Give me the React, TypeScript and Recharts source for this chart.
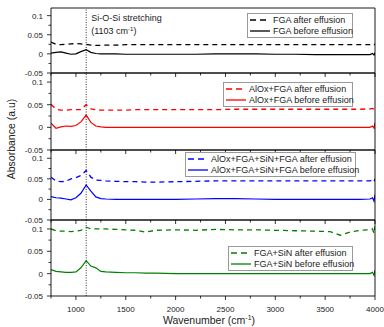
import { Legend, Line, LineChart, ReferenceLine, XAxis, YAxis } from "recharts";

const W = 384;
const H = 327;
const FONT = "'Liberation Sans', Arial, sans-serif";

// x values (cm-1)
const wavenumber = [
  750, 800, 850, 900, 950, 1000, 1050, 1103, 1150, 1200, 1250, 1300, 1400, 1500, 1600, 1700,
  1800, 2000, 2200, 2400, 2600, 2800, 3000, 3200, 3400, 3550, 3650, 3750, 3850, 3950, 3975,
  3990, 4000,
];

const fgaAfter = [
  0.031, 0.025, 0.024, 0.025, 0.026, 0.027, 0.026, 0.025, 0.023, 0.022, 0.022, 0.023, 0.023,
  0.024, 0.024, 0.024, 0.024, 0.024, 0.024, 0.024, 0.024, 0.024, 0.024, 0.024, 0.024, 0.024,
  0.024, 0.024, 0.024, 0.024, 0.025, 0.023, 0.026,
];
const fgaBefore = [
  0.002, 0.004, 0.005, 0.002, -0.001, 0.0, 0.006, 0.011, 0.004, 0.001, 0.0, 0.0, 0.0, -0.001,
  -0.001, -0.001, -0.001, -0.001, -0.001, 0.0, 0.0, 0.0, -0.001, -0.001, -0.002, -0.002, -0.002,
  -0.002, -0.002, -0.002, 0.001, -0.003, 0.003,
];
const alOxAfter = [
  0.051, 0.04, 0.038, 0.038, 0.039, 0.039, 0.039, 0.05, 0.041, 0.039, 0.038, 0.038, 0.038, 0.038,
  0.039, 0.039, 0.039, 0.039, 0.039, 0.039, 0.04, 0.04, 0.04, 0.04, 0.04, 0.04, 0.04, 0.04, 0.04,
  0.041, 0.042, 0.04, 0.048,
];
const alOxBefore = [
  0.009, -0.002, 0.001, 0.003, 0.002, 0.004, 0.012, 0.027, 0.011, 0.003, 0.001, 0.0, 0.0, 0.0,
  0.0, 0.0, 0.0, 0.0, 0.0, 0.0, 0.0, 0.0, 0.0, 0.0, 0.0, 0.0, 0.0, 0.0, 0.0, 0.0, 0.003, -0.002,
  0.01,
];
const stackAfter = [
  0.054, 0.045, 0.043, 0.044, 0.05, 0.053, 0.058, 0.07, 0.054, 0.047, 0.046, 0.045, 0.044, 0.043,
  0.043, 0.042, 0.042, 0.043, 0.044, 0.045, 0.045, 0.045, 0.045, 0.045, 0.045, 0.045, 0.045,
  0.045, 0.045, 0.045, 0.047, 0.043, 0.05,
];
const stackBefore = [
  0.007, 0.004, 0.003, 0.001, -0.001, 0.004, 0.015, 0.035, 0.02, 0.006, 0.002, 0.001, 0.0, 0.0,
  0.0, 0.0, 0.0, 0.0, 0.001, 0.002, 0.002, 0.001, 0.0, 0.0, 0.0, 0.0, 0.0, 0.0, 0.0, 0.001, 0.004,
  -0.004, 0.012,
];
const sinAfter = [
  0.1, 0.096, 0.095, 0.095, 0.094, 0.095, 0.097, 0.104, 0.1, 0.1, 0.1, 0.1, 0.099, 0.098, 0.097,
  0.093, 0.097, 0.098, 0.097, 0.099, 0.098, 0.098, 0.097, 0.096, 0.095, 0.094, 0.086, 0.093,
  0.097, 0.098, 0.1, 0.09, 0.106,
];
const sinBefore = [
  0.009, 0.005, 0.004, 0.003, 0.003, 0.004, 0.013, 0.029, 0.017, 0.013, 0.005, 0.004, 0.003,
  0.002, 0.002, 0.001, 0.001, 0.0, 0.0, 0.0, 0.0, 0.0, 0.0, 0.0, 0.0, 0.0, 0.0, 0.0, 0.0, 0.0,
  0.003, -0.004, 0.008,
];

const xMajorTicks = [1000, 1500, 2000, 2500, 3000, 3500, 4000];
const xMinorTicks = [750, 1250, 1750, 2250, 2750, 3250, 3750];
const yMajorTicks = [-0.05, 0, 0.05, 0.1];
const yMinorTicks = [-0.025, 0.025, 0.075];
const peakWavenumber = 1103;

type Panel = {
  name: string;
  color: string;
  after: number[];
  before: number[];
  top: number;
  bottom: number;
  legend: { left: number; top: number; width: number };
};

const panels: Panel[] = [
  { name: "FGA", color: "#000000", after: fgaAfter, before: fgaBefore, top: 8, bottom: 73, legend: { left: 247, top: 13, width: 106 } },
  { name: "AlOx+FGA", color: "#ff0000", after: alOxAfter, before: alOxBefore, top: 73, bottom: 150, legend: { left: 223, top: 82, width: 130 } },
  { name: "AlOx+FGA+SiN+FGA", color: "#0000ff", after: stackAfter, before: stackBefore, top: 150, bottom: 220, legend: { left: 185, top: 152, width: 171 } },
  { name: "FGA+SiN", color: "#008000", after: sinAfter, before: sinBefore, top: 220, bottom: 296, legend: { left: 228, top: 246, width: 125 } },
];

function YTick(props: any) {
  const { x, y, payload } = props;
  const major = yMajorTicks.includes(payload.value);
  return (
    <g>
      <line x1={x - (major ? 4 : 2.5)} x2={x} y1={y} y2={y} stroke="#000" strokeWidth={0.8} />
      {major && (
        <text x={x - 8} y={y + 3} textAnchor="end" fontSize={8} fill="#222" fontFamily={FONT}>
          {String(payload.value)}
        </text>
      )}
    </g>
  );
}

function XTick(props: any) {
  const { x, y, payload, showLabel } = props;
  const major = xMajorTicks.includes(payload.value);
  return (
    <g>
      <line x1={x} x2={x} y1={y} y2={y + (major ? 4 : 2.5)} stroke="#000" strokeWidth={0.8} />
      {major && showLabel && (
        <text x={x} y={y + 16} textAnchor="middle" fontSize={8} fill="#222" fontFamily={FONT}>
          {String(payload.value)}
        </text>
      )}
    </g>
  );
}

function LegendBox({ panel }: { panel: Panel }) {
  const rows = [
    { label: `${panel.name} after effusion`, dash: "6 4" },
    { label: `${panel.name} before effusion`, dash: undefined },
  ];
  return (
    <div
      style={{
        background: "#fff",
        border: "1px solid #999",
        padding: 1,
        fontFamily: FONT,
        fontSize: 9,
        lineHeight: "10px",
        color: "#222",
      }}
    >
      {rows.map((r) => (
        <div key={r.label} style={{ display: "flex", alignItems: "center", height: 10.5 }}>
          <svg width={22} height={10} style={{ flex: "none" }}>
            <line x1={1} x2={21} y1={5} y2={5} stroke={panel.color} strokeWidth={1.3} strokeDasharray={r.dash} />
          </svg>
          <span style={{ marginLeft: 2, whiteSpace: "nowrap" }}>{r.label}</span>
        </div>
      ))}
    </div>
  );
}

function PeakLabel(props: any) {
  const vb = props.viewBox || {};
  const x = (vb.x ?? 0) + 5;
  const y = vb.y ?? 0;
  return (
    <text fontSize={9} fill="#222" fontFamily={FONT}>
      <tspan x={x} y={y + 13}>Si-O-Si stretching</tspan>
      <tspan x={x} y={y + 26}>(1103 cm</tspan>
      <tspan dy={-3} fontSize={6}>-1</tspan>
      <tspan dy={3}>)</tspan>
    </text>
  );
}

function XTitle(props: any) {
  const vb = props.viewBox || {};
  const cx = (vb.x ?? 0) + (vb.width ?? 0) / 2 - 4;
  const y = (vb.y ?? 0) + 28;
  return (
    <text x={cx} y={y} textAnchor="middle" fontSize={10.5} fill="#222" fontFamily={FONT}>
      Wavenumber (cm
      <tspan dy={-4} fontSize={7}>-1</tspan>
      <tspan dy={4}>)</tspan>
    </text>
  );
}

function PanelChart({ panel, last, first }: { panel: Panel; last: boolean; first: boolean }) {
  const rows = wavenumber.map((w, i) => ({ w, after: panel.after[i], before: panel.before[i] }));
  // axes take 1px each, so margins are one less than the frame
  return (
    <div style={{ position: "absolute", left: 0, top: 0 }}>
      <LineChart
        width={W}
        height={H}
        data={rows}
        margin={{ top: panel.top - 1, bottom: H - panel.bottom - 1, left: 50, right: 8 }}
      >
        <XAxis
          dataKey="w"
          type="number"
          domain={[750, 4000]}
          ticks={[...xMinorTicks, ...xMajorTicks]}
          interval={0}
          allowDataOverflow
          height={1}
          tickSize={0}
          tickMargin={0}
          tickLine={false}
          axisLine={{ stroke: "#000", strokeWidth: 0.9 }}
          tick={(p: any) => <XTick {...p} showLabel={last} />}
          label={last ? (p: any) => <XTitle {...p} /> : undefined}
        />
        <XAxis
          xAxisId="top"
          orientation="top"
          dataKey="w"
          type="number"
          domain={[750, 4000]}
          allowDataOverflow
          height={1}
          tick={false}
          tickLine={false}
          axisLine={{ stroke: "#000", strokeWidth: 0.9 }}
        />
        <YAxis
          type="number"
          domain={[-0.05, 0.12]}
          ticks={[...yMinorTicks, ...yMajorTicks]}
          interval={0}
          allowDataOverflow
          width={1}
          tickSize={0}
          tickMargin={0}
          tickLine={false}
          axisLine={{ stroke: "#000", strokeWidth: 0.9 }}
          tick={(p: any) => <YTick {...p} />}
        />
        <YAxis
          yAxisId="right"
          orientation="right"
          type="number"
          domain={[-0.05, 0.12]}
          allowDataOverflow
          width={1}
          tick={false}
          tickLine={false}
          axisLine={{ stroke: "#000", strokeWidth: 0.9 }}
        />
        <ReferenceLine
          x={peakWavenumber}
          stroke="#000"
          strokeWidth={0.8}
          strokeDasharray="1 1.5"
          label={first ? (p: any) => <PeakLabel {...p} /> : undefined}
        />
        <Line
          dataKey="after"
          name={`${panel.name} after effusion`}
          stroke={panel.color}
          strokeWidth={1.3}
          strokeDasharray="5 4"
          dot={false}
          type="linear"
          isAnimationActive={false}
        />
        <Line
          dataKey="before"
          name={`${panel.name} before effusion`}
          stroke={panel.color}
          strokeWidth={1.2}
          dot={false}
          type="linear"
          isAnimationActive={false}
        />
        <Legend
          layout="vertical"
          align="center"
          verticalAlign="middle"
          content={() => <LegendBox panel={panel} />}
          wrapperStyle={{
            left: panel.legend.left,
            top: panel.legend.top,
            width: panel.legend.width,
            right: "auto",
            bottom: "auto",
          }}
        />
      </LineChart>
    </div>
  );
}

export default function App() {
  return (
    <div style={{ position: "absolute", left: 0, top: 0, width: W, height: H, background: "#fff" }}>
      {panels.map((p, i) => (
        <PanelChart key={p.name} panel={p} first={i === 0} last={i === panels.length - 1} />
      ))}
      <svg
        width={30}
        height={H}
        style={{ position: "absolute", left: 0, top: 0, pointerEvents: "none" }}
      >
        <text
          transform="translate(15, 139) rotate(-90)"
          textAnchor="middle"
          fontSize={10.5}
          fill="#222"
          fontFamily={FONT}
        >
          Absorbance (a.u)
        </text>
      </svg>
    </div>
  );
}
